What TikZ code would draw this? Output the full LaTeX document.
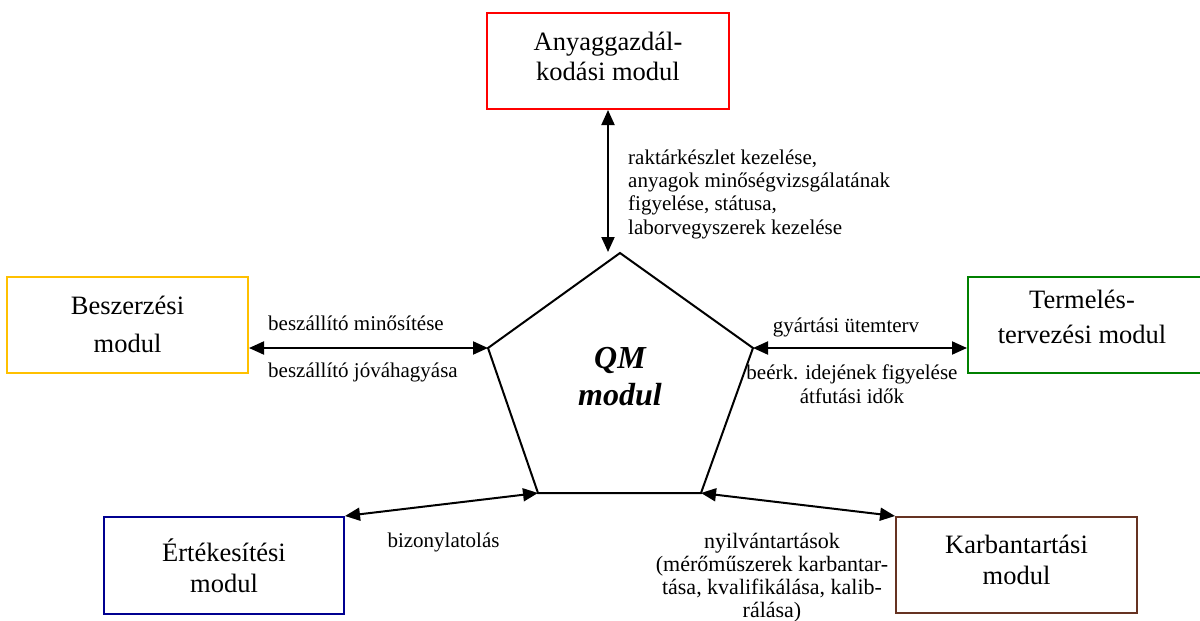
\documentclass[tikz,border=0pt]{standalone}
\usepackage{fontspec}
\setmainfont{Liberation Serif}
\usetikzlibrary{arrows.meta,calc}

\definecolor{boxred}{HTML}{FF0000}
\definecolor{boxyellow}{HTML}{FFC000}
\definecolor{boxgreen}{HTML}{008000}
\definecolor{boxblue}{HTML}{000090}
\definecolor{boxbrown}{HTML}{663322}

\begin{document}
\begin{tikzpicture}[x=1pt,y=-1pt,
  modbox/.style n args={3}{draw=#1, line width=2pt, fill=white, inner sep=0pt,
    minimum width=#2, minimum height=#3},
  boxtext/.style={font=\fontsize{26.5}{#1}\selectfont, align=center, anchor=base, inner sep=0pt},
  flowtext/.style={font=\fontsize{21}{#1}\selectfont, inner sep=0pt},
  link/.style={line width=2pt, {Triangle[length=15pt,width=13pt]}-{Triangle[length=15pt,width=13pt]}},
  qmtext/.style={font=\fontsize{32}{37}\selectfont\bfseries\itshape, align=center, anchor=base, inner sep=0pt}
]
\useasboundingbox (0,0) rectangle (1200,621);
\fill[white] (0,0) rectangle (1200,621);
\clip (0,0) rectangle (1200,621);

% central pentagon
\coordinate (T)  at (620,253);
\coordinate (L)  at (488,348);
\coordinate (R)  at (753,348);
\coordinate (BL) at (538,493);
\coordinate (BR) at (701,493);
\coordinate (qtop) at (608,252);
\draw[line width=2pt, line join=miter] (T) -- (R) -- (BR) -- (BL) -- (L) -- cycle;
% multi-line nodes are placed at the baseline of their last line
\node[qmtext] (qm) at (620,405) {QM\\modul};

% module boxes
\node[modbox={boxred}{242pt}{96pt}]    (anyag)  at (608,61)    {};
\node[modbox={boxyellow}{241pt}{96pt}] (beszer) at (127.5,325) {};
\node[modbox={boxgreen}{241pt}{96pt}]  (termel) at (1088.5,325) {};
\node[modbox={boxblue}{240pt}{97pt}]   (ertek)  at (224,565.5) {};
\node[modbox={boxbrown}{241pt}{96pt}]  (karban) at (1016.5,565) {};

\node[boxtext=30] (anyagT)  at (608,80)    {Anyaggazdál-\\kodási modul};
\node[boxtext=38] (beszerT) at (127.5,352) {Beszerzési\\modul};
\node[boxtext=35] (termelT) at (1082,343)  {Termelés-\\tervezési modul};
\node[boxtext=31] (ertekT)  at (224,592)   {Értékesítési\\modul};
\node[boxtext=31] (karbanT) at (1016.5,584) {Karbantartási\\modul};

% connectors
\draw[link] (anyag.south) -- (qtop);
\draw[link] (beszer.east |- L) -- (L);
\draw[link] (R) -- (termel.west |- R);
\draw[link] (ertek.north east) -- (BL);
\draw[link] (BR) -- (karban.north west);

% connector labels
\node[flowtext=23.3, align=left, anchor=base west] (lbA) at (628,234)
  {raktárkészlet kezelése,\\anyagok minőségvizsgálatának\\figyelése, státusa,\\laborvegyszerek kezelése};
\node[flowtext=23, anchor=base west] (lbB1) at (268,330) {beszállító minősítése};
\node[flowtext=23, anchor=base west] (lbB2) at (268,377) {beszállító jóváhagyása};
\node[flowtext=23, anchor=base] (lbT1) at (846,332) {gyártási ütemterv};
\node[flowtext=24, align=center, anchor=base] (lbT2) at (852,403)
  {beérk. idejének figyelése\\átfutási idők};
\node[flowtext=23, anchor=base] (lbE) at (443.5,547) {bizonylatolás};
\node[font=\fontsize{22}{23}\selectfont, inner sep=0pt, align=center, anchor=base] (lbK) at (772,617)
  {nyilvántartások\\(mérőműszerek karbantar-\\tása, kvalifikálása, kalib-\\rálása)};
\end{tikzpicture}
\end{document}
